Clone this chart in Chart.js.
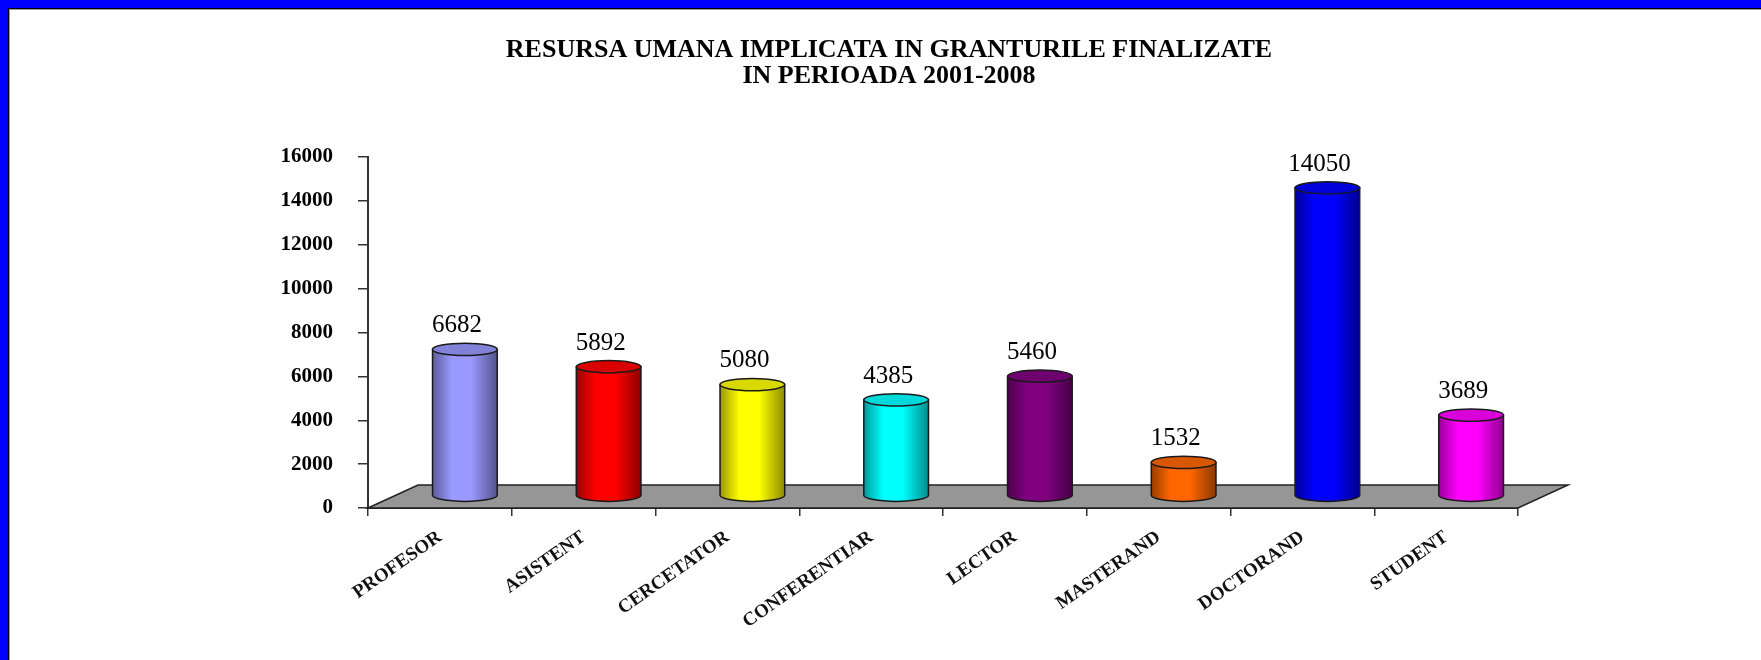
<!DOCTYPE html>
<html>
<head>
<meta charset="utf-8">
<title>Resursa umana implicata in granturile finalizate</title>
<script src="https://cdn.jsdelivr.net/npm/chart.js@4/dist/chart.umd.min.js"></script>
<style>
  body { margin: 0; background: #fff; }
  #frame { width: 1761px; height: 660px; box-sizing: border-box; border-top: 8px solid #0000ff; border-left: 8px solid #0000ff; }
  #edge { border-top: 1px solid #000; border-left: 1px solid #000; }
  #wrap { position: relative; width: 1751px; height: 650px; border-top: 1px solid #9a9a9a; border-left: 1px solid #9a9a9a; }
</style>
</head>
<body>
<div id="frame"><div id="edge"><div id="wrap"><canvas id="chart"></canvas></div></div></div>
<script>
const categories = ['PROFESOR', 'ASISTENT', 'CERCETATOR', 'CONFERENTIAR', 'LECTOR', 'MASTERAND', 'DOCTORAND', 'STUDENT'];
const values = [6682, 5892, 5080, 4385, 5460, 1532, 14050, 3689];
const barColors = ['#9999ff', '#ff0000', '#ffff00', '#00ffff', '#800080', '#ff6600', '#0000ff', '#ff00ff'];
const yMax = 16000;
const yStep = 2000;

const SERIF = "'Liberation Serif', 'Times New Roman', serif";
// depth of the 3d floor
const DEPTH_X = 50;
const DEPTH_Y = 23;

function shade(hex, k) {
  const n = parseInt(hex.slice(1), 16);
  const r = Math.round(((n >> 16) & 255) * k);
  const g = Math.round(((n >> 8) & 255) * k);
  const b = Math.round((n & 255) * k);
  return `rgb(${r},${g},${b})`;
}

function drawCylinder(ctx, cx, top, base, w, color) {
  const rx = w / 2, ry = w * 0.095;
  const grad = ctx.createLinearGradient(cx - rx, 0, cx + rx, 0);
  grad.addColorStop(0, shade(color, 0.6));
  grad.addColorStop(0.3, color);
  grad.addColorStop(0.6, color);
  grad.addColorStop(1, shade(color, 0.55));

  ctx.beginPath();
  ctx.moveTo(cx - rx, top);
  ctx.lineTo(cx - rx, base);
  ctx.ellipse(cx, base, rx, ry, 0, Math.PI, 0, true);
  ctx.lineTo(cx + rx, top);
  ctx.closePath();
  ctx.fillStyle = grad;
  ctx.fill();
  ctx.lineWidth = 1.5;
  ctx.strokeStyle = '#1a1a1a';
  ctx.stroke();

  ctx.beginPath();
  ctx.ellipse(cx, top, rx, ry, 0, 0, Math.PI * 2);
  ctx.fillStyle = shade(color, 0.85);
  ctx.fill();
  ctx.stroke();
  return ry;
}

const cylinders = {
  id: 'cylinders',
  beforeDatasetsDraw(chart) {
    const {ctx, chartArea: a} = chart;
    ctx.save();
    ctx.beginPath();
    ctx.moveTo(a.left, a.bottom);
    ctx.lineTo(a.left + DEPTH_X, a.bottom - DEPTH_Y);
    ctx.lineTo(a.right + DEPTH_X, a.bottom - DEPTH_Y);
    ctx.lineTo(a.right, a.bottom);
    ctx.closePath();
    ctx.fillStyle = '#969696';
    ctx.fill();
    ctx.strokeStyle = '#222';
    ctx.lineWidth = 1.5;
    ctx.stroke();
    ctx.restore();
  },
  afterDatasetsDraw(chart) {
    const ctx = chart.ctx;
    const meta = chart.getDatasetMeta(0);
    const dx = DEPTH_X / 2, dy = Math.round(DEPTH_Y / 2);
    ctx.save();
    meta.data.forEach((bar, i) => {
      const cx = bar.x + dx;
      const top = bar.y - dy;
      const ry = drawCylinder(ctx, cx, top, bar.base - dy, bar.width, barColors[i]);
      ctx.fillStyle = '#000';
      ctx.font = `25px ${SERIF}`;
      ctx.textAlign = 'center';
      ctx.textBaseline = 'alphabetic';
      ctx.fillText(String(values[i]), cx - 8, top - ry - 11);
    });
    ctx.restore();
  }
};

new Chart(document.getElementById('chart'), {
  type: 'bar',
  data: {
    labels: categories,
    datasets: [{
      data: values,
      backgroundColor: 'rgba(0,0,0,0)',
      borderWidth: 0,
      barPercentage: 0.45,
      categoryPercentage: 1
    }]
  },
  options: {
    responsive: true,
    maintainAspectRatio: false,
    animation: false,
    layout: { padding: { left: 250, right: 243, top: 0, bottom: 0 } },
    plugins: {
      legend: { display: false },
      tooltip: { enabled: false },
      title: {
        display: true,
        text: ['RESURSA UMANA IMPLICATA IN GRANTURILE FINALIZATE', 'IN PERIOADA 2001-2008'],
        color: '#000',
        font: { family: SERIF, size: 26, weight: 'bold', lineHeight: 1.0 },
        padding: { top: 27, bottom: 68 }
      }
    },
    scales: {
      x: {
        afterFit: s => { s.height = 152; },
        grid: { drawOnChartArea: false, offset: true, tickLength: 8, color: '#333', lineWidth: 1.5 },
        border: { color: '#222', width: 2 },
        ticks: {
          autoSkip: false,
          minRotation: 35,
          maxRotation: 35,
          padding: 10,
          color: '#111',
          font: { family: SERIF, size: 19, weight: 'bold' }
        }
      },
      y: {
        min: 0,
        max: yMax,
        afterFit: s => { s.width = 108; },
        grid: { drawOnChartArea: false, tickLength: 10, color: '#333', lineWidth: 1.5 },
        border: { color: '#333', width: 2 },
        ticks: {
          stepSize: yStep,
          padding: 25,
          color: '#000',
          font: { family: SERIF, size: 21, weight: 'bold' },
          callback: v => String(v)
        }
      }
    }
  },
  plugins: [cylinders]
});
</script>
</body>
</html>
